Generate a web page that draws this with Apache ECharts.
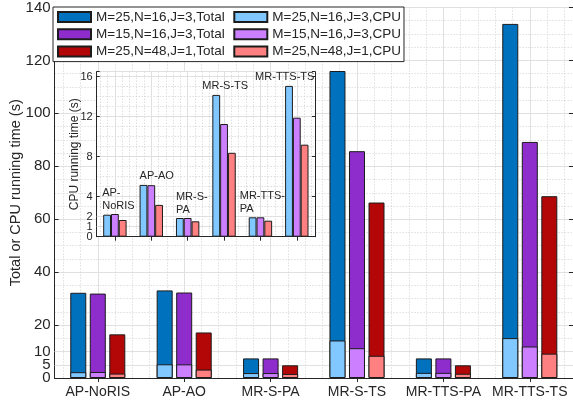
<!DOCTYPE html>
<html><head><meta charset="utf-8">
<script src="https://cdn.jsdelivr.net/npm/echarts@6/dist/echarts.min.js"></script>
<style>html,body{margin:0;padding:0;background:#fff}#c{width:573px;height:407px}</style>
</head><body><div id="c"></div>
<script>
// ---------- data ----------
const categories = ['AP-NoRIS', 'AP-AO', 'MR-S-PA', 'MR-S-TS', 'MR-TTS-PA', 'MR-TTS-TS'];
const insetLabels = ['AP-\nNoRIS', 'AP-AO', 'MR-S-\nPA', 'MR-S-TS', 'MR-TTS-\nPA', 'MR-TTS-TS'];
const nameTotalA = 'M=25,N=16,J=3,Total';
const nameCpuA = 'M=25,N=16,J=3,CPU';
const nameTotalB = 'M=15,N=16,J=3,Total';
const nameCpuB = 'M=15,N=16,J=3,CPU';
const nameTotalC = 'M=25,N=48,J=1,Total';
const nameCpuC = 'M=25,N=48,J=1,CPU';
const totalA = [32.2, 33.1, 7.4, 116.0, 7.4, 133.8];
const totalB = [31.9, 32.3, 7.4, 85.7, 7.4, 89.2];
const totalC = [16.5, 17.2, 4.8, 66.3, 4.8, 68.7];
const cpuA = [2.2, 5.18, 1.87, 14.18, 1.94, 15.08];
const cpuB = [2.27, 5.15, 1.87, 11.27, 1.94, 11.9];
const cpuC = [1.67, 3.18, 1.54, 8.39, 1.6, 9.2];
const mainTicks = [0, 5, 10, 20, 40, 60, 80, 100, 120, 140];
const insetTicks = [0, 1, 2, 4, 8, 12, 16];
const yTitle = 'Total or CPU running time (s)';
const insetYTitle = 'CPU running time (s)';

// ---------- styles / layout ----------
const FONT = '"Liberation Sans", Arial, Helvetica, sans-serif';
const TXT = '#262626';
const AX = '#262626';
const GRID = '#e0e0e0';
const MINOR = '#cfcfcf';
const colTotalA = '#0072BD', colCpuA = '#80C8FF';
const colTotalB = '#8E2CCC', colCpuB = '#CC80FF';
const colTotalC = '#B30707', colCpuC = '#FF8080';
const insetLabelDx = [-1, 0, 0, -10, -9, -30];
const BORDER = '#1c1c1c';
const MAIN_MAJOR = 20, INSET_MAJOR = 4;

// helper grid-line axes (category axes without gaps: half- and tenth-category steps)
const halfSteps = Array.from({length: categories.length * 2 + 1}, (_, i) => 'h' + i);
const tenthSteps = Array.from({length: categories.length * 10 + 1}, (_, i) => 't' + i);

function mainBar(name, data, color, xIdx) {
  return {
    type: 'bar', name: name, data: data, xAxisIndex: xIdx, yAxisIndex: 0,
    barWidth: 16, barGap: '22%', z: 2,
    itemStyle: {color: color, borderColor: BORDER, borderWidth: 1},
    emphasis: {disabled: true}, animation: false
  };
}
function insetBar(name, data, color, withLabels) {
  const d = withLabels ? data.map((v, i) => ({
    value: v,
    label: {
      show: true, formatter: insetLabels[i], position: [insetLabelDx[i], -2],
      align: 'left', verticalAlign: 'bottom', fontSize: 11, lineHeight: 13,
      color: TXT, fontFamily: FONT
    }
  })) : data;
  return {
    type: 'bar', name: name, data: d, xAxisIndex: 3, yAxisIndex: 3,
    barWidth: 7.8, barGap: '0%', z: 5,
    itemStyle: {color: color, borderColor: BORDER, borderWidth: 1},
    emphasis: {disabled: true}, animation: false
  };
}
function gridMarks(xIdx, yIdx, values, z) {
  return {
    type: 'line', data: [], xAxisIndex: xIdx, yAxisIndex: yIdx, z: z, silent: true,
    markLine: {
      silent: true, symbol: 'none', label: {show: false}, animation: false, z: z,
      lineStyle: {color: GRID, type: 'solid', width: 1},
      emphasis: {disabled: true},
      data: values.map(v => ({yAxis: v}))
    }
  };
}

const catAxisBase = {
  type: 'category', boundaryGap: true,
  axisLine: {show: true, lineStyle: {color: AX, width: 1}},
  axisTick: {show: true, inside: true, alignWithLabel: true, length: 4, interval: 0, lineStyle: {color: AX}},
  axisLabel: {show: false}, splitLine: {show: false}
};
function lineAxis(g, steps, color, type, z) {
  return {
    type: 'category', gridIndex: g, data: steps, boundaryGap: false,
    axisLine: {show: false}, axisTick: {show: false}, axisLabel: {show: false, interval: 0},
    splitLine: {show: true, interval: (i) => i % 2 === 1, lineStyle: {color: color, type: type}},
    z: z
  };
}

const option = {
  animation: false,
  backgroundColor: '#fff',
  textStyle: {fontFamily: FONT},
  grid: [
    {left: 53, top: 7, width: 523, height: 371, show: false},
    {left: 96.7, top: 71.7, width: 218.3, height: 165, show: true, backgroundColor: '#fff', borderWidth: 0, z: 2}
  ],
  legend: {
    left: 53, top: 7, orient: 'horizontal', width: 360,
    padding: [2, 3, 2, 4], itemGap: 1.3, itemWidth: 33, itemHeight: 10,
    backgroundColor: '#fff', borderColor: AX, borderWidth: 1, z: 10,
    icon: 'rect', selectedMode: false,
    textStyle: {fontSize: 13.5, color: TXT, fontFamily: FONT, lineHeight: 16, padding: [0, 0, 0, 0]},
    data: [
      {name: nameTotalA, textStyle: {width: 136}}, {name: nameCpuA, textStyle: {width: 127}},
      {name: nameTotalB, textStyle: {width: 136}}, {name: nameCpuB, textStyle: {width: 127}},
      {name: nameTotalC, textStyle: {width: 136}}, {name: nameCpuC, textStyle: {width: 127}}
    ]
  },
  xAxis: [
    Object.assign({}, catAxisBase, {
      gridIndex: 0, position: 'bottom', data: categories,
      axisLabel: {show: true, interval: 0, fontSize: 14, color: TXT, margin: 7, fontFamily: FONT}
    }),
    Object.assign({}, catAxisBase, {gridIndex: 0, position: 'top', data: categories}),
    lineAxis(0, tenthSteps, MINOR, [1, 2], 0),
    Object.assign({}, catAxisBase, {gridIndex: 1, position: 'bottom', data: categories, z: 3}),
    Object.assign({}, catAxisBase, {gridIndex: 1, position: 'top', data: categories, z: 3}),
    lineAxis(1, tenthSteps, MINOR, [1, 2], 3),
    lineAxis(0, halfSteps, GRID, 'solid', 0),
    lineAxis(1, halfSteps, GRID, 'solid', 3)
  ],
  yAxis: [
    { // main: minor labels (5, 10) + minor dotted grid
      type: 'value', gridIndex: 0, position: 'left', min: 0, max: 140, interval: 5,
      axisLine: {show: true, lineStyle: {color: AX}}, axisTick: {show: false},
      axisLabel: {
        show: true, fontSize: 15, color: TXT, margin: 4, fontFamily: FONT,
        showMinLabel: false, showMaxLabel: false,
        formatter: v => (mainTicks.indexOf(v) >= 0 && v % MAIN_MAJOR !== 0 ? String(v) : '')
      },
      splitLine: {show: true, lineStyle: {color: MINOR, type: [1, 2]}},
      name: yTitle, nameLocation: 'middle', nameGap: 30,
      nameTextStyle: {fontSize: 14.5, color: TXT, fontFamily: FONT}
    },
    { // main: major labels + ticks + solid grid
      type: 'value', gridIndex: 0, position: 'left', min: 0, max: 140, interval: MAIN_MAJOR,
      axisLine: {show: false},
      axisLabel: {
        show: true, fontSize: 15, color: TXT, margin: 4, fontFamily: FONT,
        showMinLabel: true, showMaxLabel: true,
        formatter: v => (mainTicks.indexOf(v) >= 0 ? String(v) : '')
      },
      axisTick: {show: true, inside: true, length: 4, lineStyle: {color: AX}},
      splitLine: {show: true, lineStyle: {color: GRID}}
    },
    { // main right box side
      type: 'value', gridIndex: 0, position: 'right', min: 0, max: 140, interval: MAIN_MAJOR,
      axisLine: {show: true, lineStyle: {color: AX}}, axisLabel: {show: false},
      axisTick: {show: true, inside: true, length: 4, lineStyle: {color: AX}},
      splitLine: {show: false}
    },
    { // inset minor labels (1, 2) + minor grid
      type: 'value', gridIndex: 1, position: 'left', min: 0, max: 16.5, interval: 1, z: 3,
      axisLine: {show: true, lineStyle: {color: AX}}, axisTick: {show: false},
      axisLabel: {
        show: true, fontSize: 11, color: TXT, margin: 4, fontFamily: FONT,
        showMinLabel: false, showMaxLabel: false,
        formatter: v => (insetTicks.indexOf(v) >= 0 && v % INSET_MAJOR !== 0 ? String(v) : '')
      },
      splitLine: {show: true, lineStyle: {color: MINOR, type: [1, 2]}},
      name: insetYTitle, nameLocation: 'middle', nameGap: 16,
      nameTextStyle: {fontSize: 12, color: TXT, fontFamily: FONT}
    },
    { // inset major labels + ticks + solid grid
      type: 'value', gridIndex: 1, position: 'left', min: 0, max: 16.5, interval: INSET_MAJOR, z: 3,
      axisLine: {show: false},
      axisLabel: {
        show: true, fontSize: 11, color: TXT, margin: 4, fontFamily: FONT,
        showMinLabel: true,
        formatter: v => (insetTicks.indexOf(v) >= 0 ? String(v) : '')
      },
      axisTick: {show: true, inside: true, length: 3, lineStyle: {color: AX}},
      splitLine: {show: true, lineStyle: {color: GRID}}
    },
    { // inset right side
      type: 'value', gridIndex: 1, position: 'right', min: 0, max: 16.5, interval: INSET_MAJOR, z: 3,
      axisLine: {show: true, lineStyle: {color: AX}}, axisLabel: {show: false},
      axisTick: {show: true, inside: true, length: 3, lineStyle: {color: AX}},
      splitLine: {show: false}
    }
  ],
  series: [
    gridMarks(0, 0, mainTicks.filter(v => v % MAIN_MAJOR !== 0), 1),
    mainBar(nameTotalA, totalA, colTotalA, 0),
    mainBar(nameTotalB, totalB, colTotalB, 0),
    mainBar(nameTotalC, totalC, colTotalC, 0),
    mainBar(nameCpuA, cpuA, colCpuA, 1),
    mainBar(nameCpuB, cpuB, colCpuB, 1),
    mainBar(nameCpuC, cpuC, colCpuC, 1),
    gridMarks(3, 3, insetTicks.filter(v => v % INSET_MAJOR !== 0), 4),
    insetBar(nameCpuA, cpuA, colCpuA, true),
    insetBar(nameCpuB, cpuB, colCpuB, false),
    insetBar(nameCpuC, cpuC, colCpuC, false)
  ]
};

const chart = echarts.init(document.getElementById('c'), null, {renderer: 'canvas'});
chart.setOption(option);
</script>
</body></html>
